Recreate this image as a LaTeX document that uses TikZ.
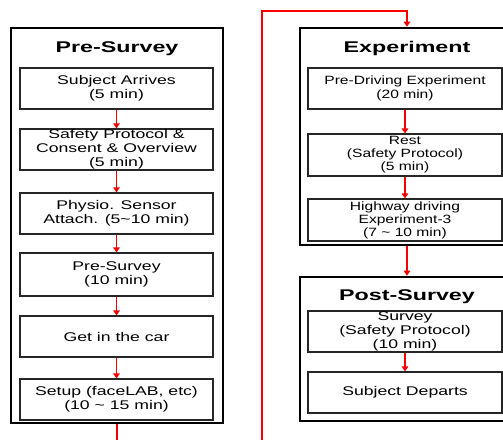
\documentclass[tikz,border=0pt]{standalone}
\usepackage{fontspec}
\setmainfont{Liberation Sans}[FakeStretch=1.4]
\newfontfamily\headfont{Liberation Sans}[FakeStretch=1.5]
\newfontfamily\narrowfont{Liberation Sans}[FakeStretch=1.3]
\usetikzlibrary{arrows.meta}
\definecolor{flowred}{RGB}{250,0,0}
\tikzset{
  stagebox/.style={draw=black, line width=2.6pt, fill=white},
  stepbox/.style={draw=black!85, line width=1.1pt, fill=white,
    minimum height=41pt, align=center, inner sep=0pt,
    font=\fontsize{12.6}{14}\selectfont, text=black},
  smallstep/.style={font=\narrowfont\fontsize{12}{13}\selectfont},
  lefty/.style={stepbox, minimum width=193pt},
  righty/.style={stepbox, minimum width=194pt},
  stagetitle/.style={font=\headfont\bfseries\fontsize{15.5}{17}\selectfont, inner sep=0pt},
  flow/.style={draw=flowred, line width=1.2pt, -{Triangle[width=6.5pt,length=5pt]}},
  flowline/.style={draw=flowred, line width=1.2pt}
}
\begin{document}
\begin{tikzpicture}[x=1pt,y=-1pt]
\useasboundingbox (0,0) rectangle (503,439);
\clip (0,0) rectangle (503,439);
\fill[white] (0,0) rectangle (503,439);

% Pre-Survey stage
\node[stagebox, minimum width=212pt, minimum height=395pt] (psbox) at (117,225.5) {};
\node[stagetitle] (pstitle) at (117,49) {Pre-Survey};
\node[lefty] (s1) at (116.5,88.5) {Subject Arrives\\(5 min)};
\node[lefty] (s2) at (116.5,149.5) {Safety Protocol \&\\Consent \& Overview\\(5 min)};
\node[lefty] (s3) at (116.5,213.5) {Physio. Sensor\\Attach. (5\textasciitilde 10 min)};
\node[lefty, minimum height=43pt] (s4) at (116.5,274.5) {Pre-Survey\\(10 min)};
\node[lefty] (s5) at (116.5,336.5) {Get in the car};
\node[lefty] (s6) at (116.5,399.5) {Setup (faceLAB, etc)\\(10 \textasciitilde{} 15 min)};

% Experiment stage
\node[stagebox, minimum width=209pt, minimum height=217pt] (exbox) at (404.5,136.5) {};
\node[stagetitle] (extitle) at (407,48) {Experiment};
\node[righty, smallstep] (e1) at (405,88.5) {Pre-Driving Experiment\\[1pt](20 min)};
\node[righty, smallstep, minimum height=42pt] (e2) at (405,155) {Rest\\(Safety Protocol)\\(5 min)};
\node[righty, smallstep, minimum height=42pt] (e3) at (405,220) {Highway driving\\Experiment-3\\(7 \textasciitilde{} 10 min)};

% Post-Survey stage
\node[stagebox, minimum width=209pt, minimum height=144pt] (pobox) at (404.5,349) {};
\node[stagetitle] (potitle) at (407,297) {Post-Survey};
\node[righty] (p1) at (405,331.5) {Survey\\(Safety Protocol)\\(10 min)};
\node[righty] (p2) at (405,392.5) {Subject Departs};

% step arrows
\draw[flow] (s1) -- (s2);
\draw[flow] (s2) -- (s3);
\draw[flow] (s3) -- (s4);
\draw[flow] (s4) -- (s5);
\draw[flow] (s5) -- (s6);
\draw[flow] (e1) -- (e2);
\draw[flow] (e2) -- (e3);
\draw[flow] (p1) -- (p2);

% links between stages
\coordinate (cutL) at (117,440);
\coordinate (cutR) at (262,440);
\coordinate (topR) at (262,11);
\draw[flowline] (psbox.south) -- (cutL);
\draw[flow] (cutR) -- (topR) -| ([xshift=2pt]e1.north |- exbox.north);
\draw[flow] ([xshift=2pt]e3.south |- exbox.south) -- ([xshift=2pt]e3.south |- pobox.north);
\end{tikzpicture}
\end{document}
